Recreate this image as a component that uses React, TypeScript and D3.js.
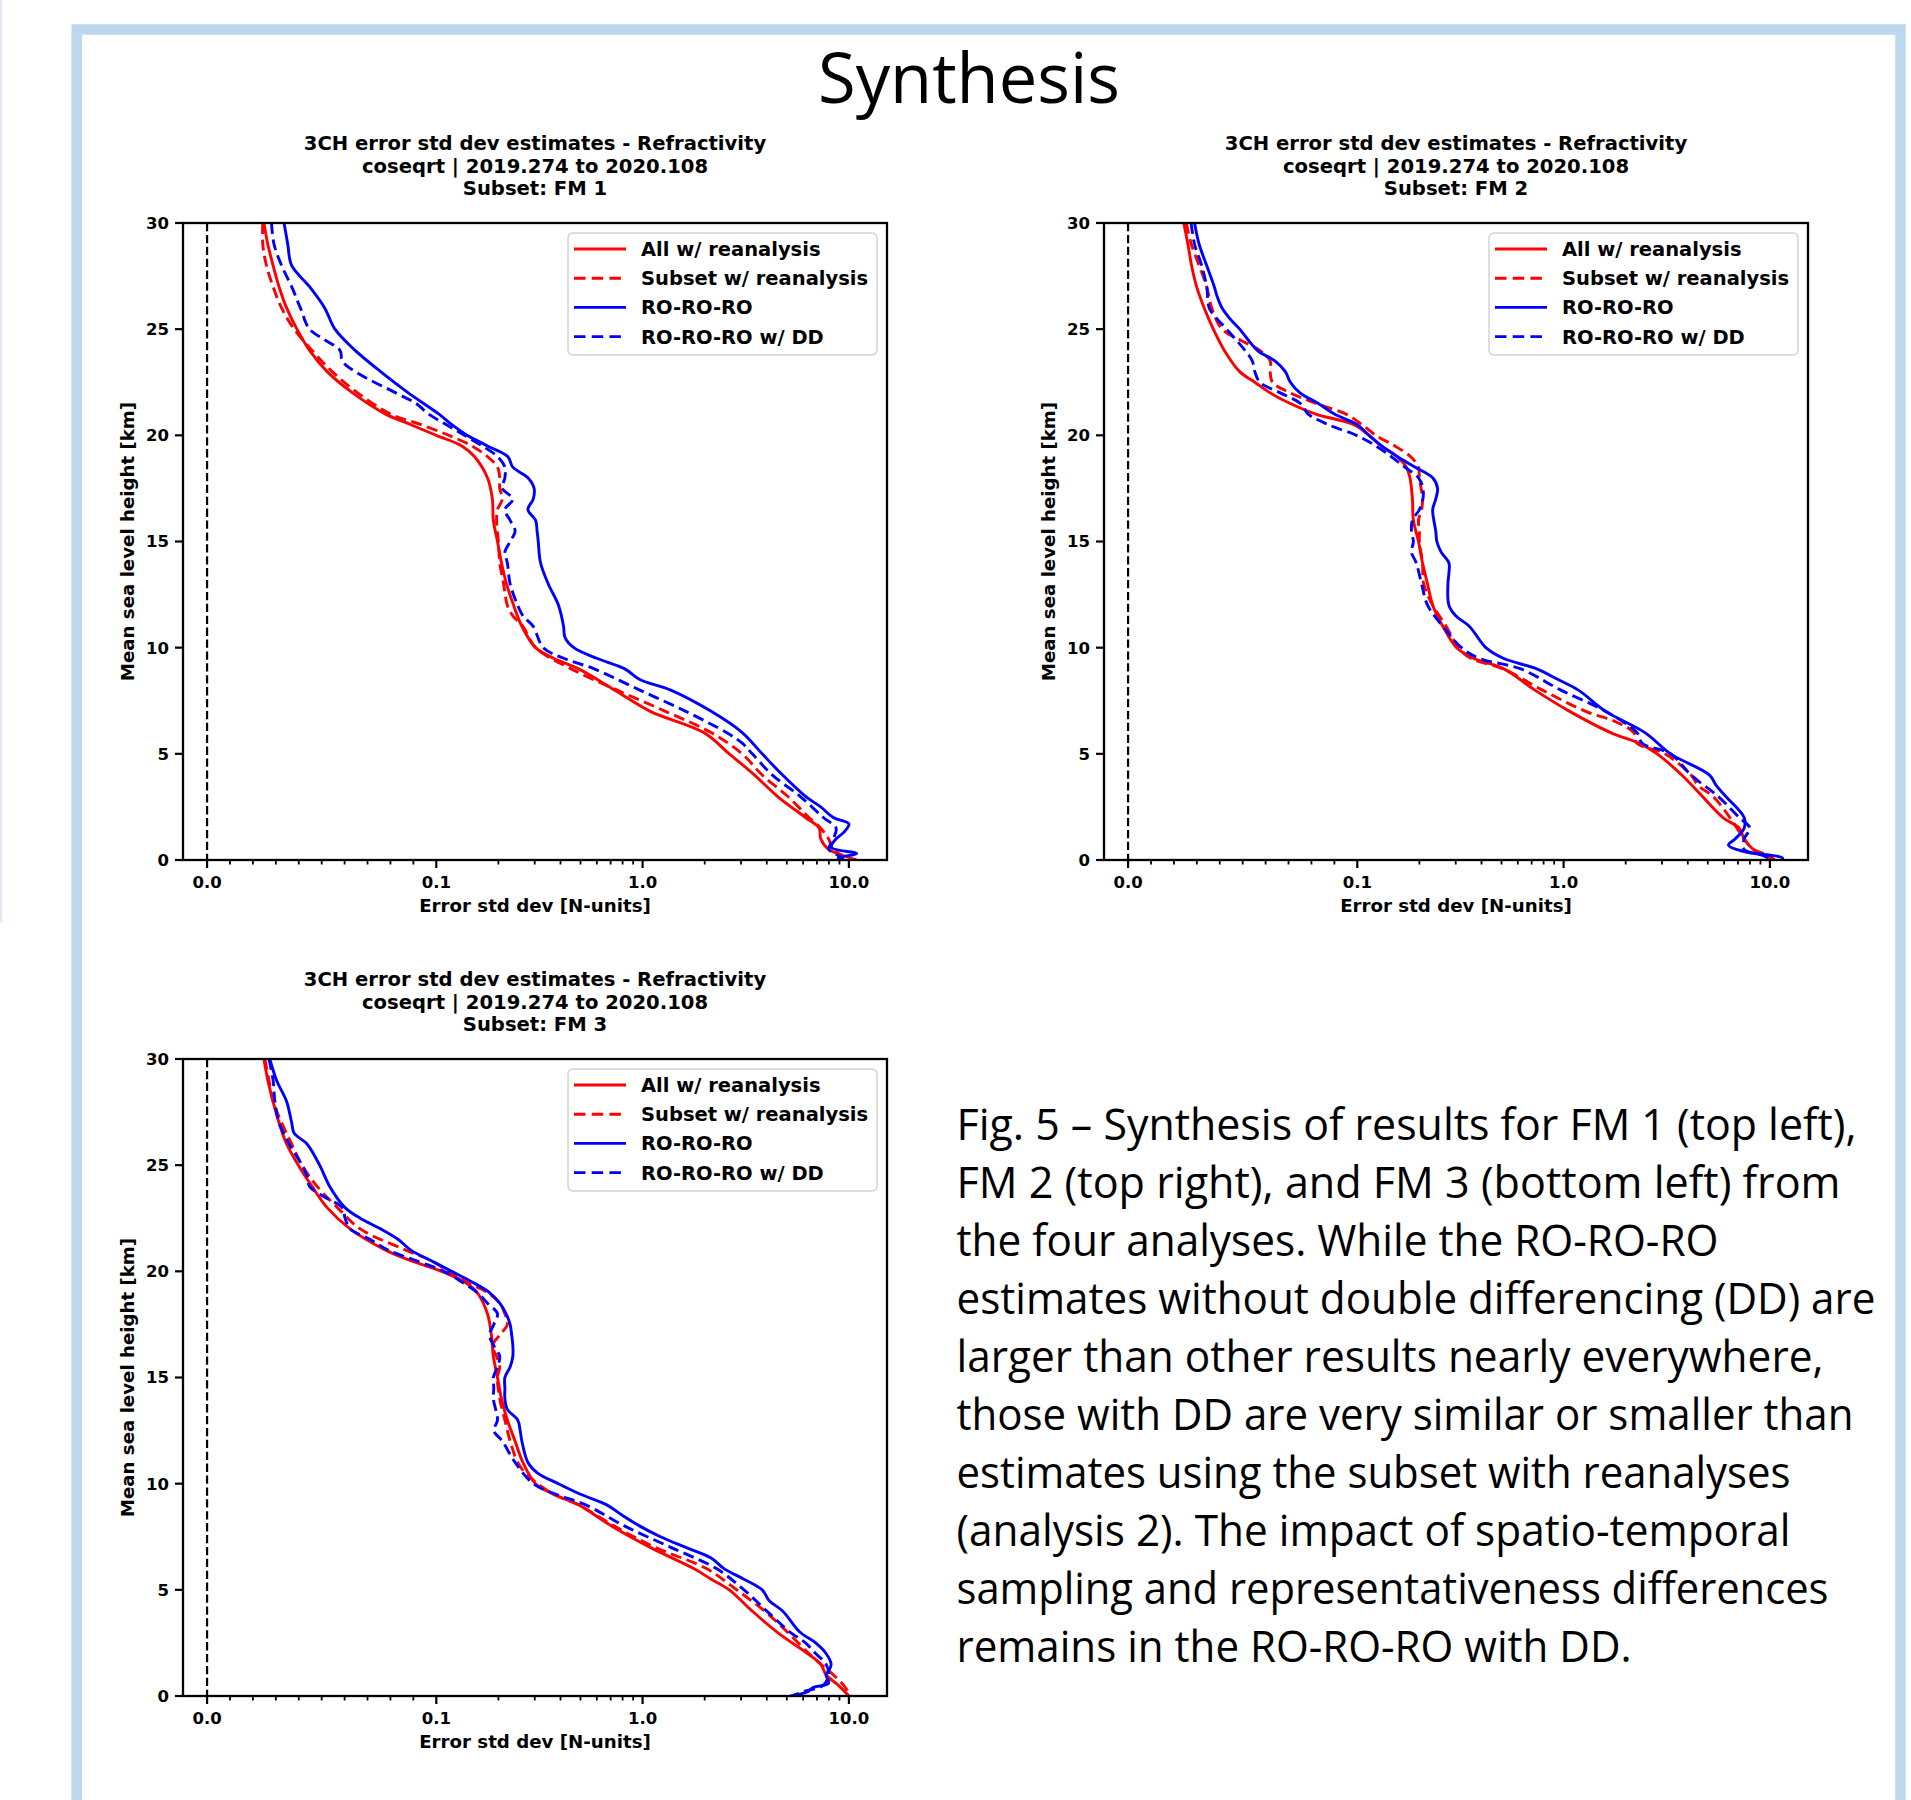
import React from 'react';
import * as d3 from 'd3';

// tick values / labels
const heightTicks = [0, 5, 10, 15, 20, 25, 30];
const errMajorTicks = [0, 0.1, 1, 10];
const errMajorLabels = ['0.0', '0.1', '1.0', '10.0'];
const errMinorTicks = [
  0.01, 0.02, 0.03, 0.04, 0.05, 0.06, 0.07, 0.08, 0.09,
  0.2, 0.3, 0.4, 0.5, 0.6, 0.7, 0.8, 0.9,
  2, 3, 4, 5, 6, 7, 8, 9,
];
const errLimits = [-0.0105, 15.3];
const heightLimits = [0, 30];

const legendLabels = ['All w/ reanalysis', 'Subset w/ reanalysis', 'RO-RO-RO', 'RO-RO-RO w/ DD'];
const subsetNames = ['FM 1', 'FM 2', 'FM 3'];
const titleLine1 = '3CH error std dev estimates - Refractivity';
const titleLine2 = 'coseqrt | 2019.274 to 2020.108';

// [height km, error std dev N-units]
const fm1All = [[30, 0.0248], [29, 0.0265], [28, 0.0288], [27, 0.0314], [26, 0.0347], [25, 0.0392], [24, 0.0447], [23, 0.0524], [22, 0.0635], [21, 0.0779], [20.5, 0.0889], [20, 0.1], [19.5, 0.133], [19, 0.153], [18, 0.177], [17, 0.187], [16, 0.189], [15, 0.198], [14, 0.207], [13, 0.219], [12, 0.237], [11, 0.26], [10, 0.303], [9.5, 0.37], [9, 0.49], [8, 0.733], [7, 1.09], [6, 1.98], [5, 2.63], [4, 3.49], [3, 4.5], [2, 6.16], [1.5, 7.18], [1, 7.3], [0.5, 7.97], [0.2, 9.44], [0, 10.9]];
const fm1Subset = [[30, 0.0243], [29, 0.0243], [28, 0.0259], [27, 0.0288], [26, 0.0325], [25, 0.038], [24, 0.0458], [23, 0.0546], [22, 0.0657], [21, 0.0801], [20.5, 0.0934], [20, 0.115], [19.5, 0.149], [19, 0.177], [18.5, 0.198], [18, 0.203], [17.5, 0.203], [17, 0.209], [16.5, 0.198], [16, 0.196], [15, 0.2], [14, 0.203], [13, 0.212], [12, 0.221], [11.5, 0.235], [11, 0.263], [10, 0.303], [9, 0.451], [8, 0.753], [7, 1.29], [6, 2.15], [5, 3.04], [4, 3.8], [3, 5.05], [2, 6.4], [1.5, 7.3], [1, 7.97], [0.5, 8.4], [0, 10.2]];
const fm1Ro = [[30, 0.0336], [29, 0.0352], [28, 0.0369], [27, 0.0447], [26, 0.0513], [25, 0.0558], [24, 0.0646], [23, 0.0757], [22, 0.0878], [21, 0.103], [20.5, 0.119], [20, 0.141], [19.5, 0.177], [19, 0.222], [18.5, 0.235], [18, 0.278], [17.5, 0.298], [17, 0.295], [16.5, 0.278], [16, 0.303], [15.5, 0.308], [15, 0.312], [14, 0.32], [13, 0.349], [12, 0.391], [11, 0.414], [10.5, 0.42], [10, 0.464], [9.5, 0.599], [9, 0.82], [8.5, 0.97], [8, 1.37], [7, 2.15], [6, 3.04], [5, 3.8], [4, 4.77], [3, 6.16], [2.5, 7.3], [2, 8.4], [1.7, 10], [1.3, 9.44], [1, 8.67], [0.6, 8.2], [0.3, 10.9], [0.1, 8.9], [0, 8.9]];
const fm1RoDD = [[30, 0.0281], [29, 0.0292], [28, 0.0325], [27, 0.0369], [26, 0.0407], [25, 0.0447], [24.5, 0.0513], [24, 0.058], [23.5, 0.059], [23, 0.0646], [22, 0.0823], [21.5, 0.0912], [21, 0.0967], [20.5, 0.112], [20, 0.137], [19.5, 0.167], [19, 0.198], [18.5, 0.215], [18, 0.215], [17.5, 0.209], [17, 0.235], [16.5, 0.215], [16, 0.228], [15.5, 0.241], [15, 0.228], [14.5, 0.215], [14, 0.221], [13, 0.228], [12, 0.248], [11.5, 0.263], [11, 0.295], [10, 0.33], [9.5, 0.414], [9, 0.583], [8, 0.97], [7, 1.62], [6, 2.55], [5.5, 3.04], [5, 3.4], [4, 4.26], [3, 5.8], [2, 7.52], [1.5, 8.67], [1, 8.4], [0.5, 8.0], [0.2, 8.9], [0, 9.44]];

const fm2All = [[30, 0.0243], [29, 0.0261], [28, 0.0277], [27, 0.0299], [26, 0.0332], [25, 0.0372], [24, 0.042], [23, 0.0487], [22.5, 0.0553], [22, 0.062], [21.5, 0.0708], [21, 0.0819], [20.5, 0.0985], [20, 0.114], [19.5, 0.131], [19, 0.156], [18.5, 0.173], [18, 0.18], [17, 0.185], [16, 0.187], [15, 0.198], [14, 0.207], [13, 0.219], [12, 0.232], [11, 0.26], [10, 0.303], [9.5, 0.365], [9, 0.514], [8, 0.726], [7, 1.07], [6, 1.69], [5.5, 2.32], [5, 2.84], [4, 3.74], [3, 4.7], [2, 5.92], [1.5, 7.1], [1, 7.5], [0.5, 8.3], [0, 10.6]];
const fm2Subset = [[30, 0.0254], [29, 0.0276], [28, 0.031], [27, 0.0343], [26, 0.0365], [25, 0.041], [24.5, 0.0487], [24, 0.0575], [23.5, 0.062], [23, 0.062], [22.5, 0.063], [22, 0.0708], [21.5, 0.082], [21, 0.0951], [20.5, 0.1055], [20, 0.123], [19.5, 0.152], [19, 0.181], [18.5, 0.198], [18, 0.2], [17, 0.207], [16.5, 0.205], [16, 0.198], [15.5, 0.2], [15, 0.2], [14, 0.207], [13, 0.21], [12, 0.232], [11, 0.27], [10, 0.31], [9.5, 0.355], [9, 0.51], [8, 0.79], [7, 1.28], [6.5, 1.8], [6, 2.19], [5.5, 2.27], [5, 3.1], [4, 4.15], [3.5, 4.5], [3, 5.3], [2, 6.4], [1, 7.5], [0.5, 8.3], [0.2, 10], [0, 10.5]];
const fm2Ro = [[30, 0.029], [29, 0.031], [28, 0.0343], [27, 0.0376], [26.5, 0.039], [26, 0.041], [25.5, 0.0444], [25, 0.0487], [24, 0.0564], [23.5, 0.0642], [23, 0.0686], [22.5, 0.0708], [22, 0.075], [21.5, 0.083], [21, 0.09], [20.5, 0.1], [20, 0.114], [19.5, 0.131], [19, 0.156], [18.5, 0.191], [18, 0.232], [17.5, 0.245], [17, 0.24], [16.5, 0.232], [16, 0.235], [15.5, 0.24], [15, 0.243], [14.5, 0.255], [14, 0.278], [13.5, 0.278], [13, 0.275], [12, 0.278], [11.5, 0.3], [11, 0.35], [10, 0.42], [9.5, 0.51], [9, 0.74], [8.5, 0.94], [8, 1.18], [7, 1.6], [6, 2.48], [5, 3.3], [4, 5.1], [3.5, 5.5], [3, 6.1], [2, 7.5], [1.5, 7.5], [1, 6.8], [0.7, 6.3], [0.4, 7.5], [0.1, 11.5], [0, 11.5]];
const fm2RoDD = [[30, 0.0275], [29, 0.029], [28, 0.0321], [27, 0.0343], [26, 0.0354], [25.5, 0.0387], [25, 0.043], [24, 0.051], [23.5, 0.0542], [23, 0.0553], [22.5, 0.0575], [22, 0.0664], [21.5, 0.0752], [21, 0.0786], [20.5, 0.0874], [20, 0.0996], [19.5, 0.123], [19, 0.146], [18.5, 0.17], [18, 0.198], [17.5, 0.208], [17, 0.208], [16.5, 0.2], [16, 0.185], [15.5, 0.183], [15, 0.187], [14.5, 0.183], [14, 0.193], [13, 0.205], [12, 0.219], [11, 0.26], [10, 0.32], [9.5, 0.39], [9, 0.62], [8, 0.97], [7, 1.6], [6, 2.27], [5.5, 2.4], [5, 3.3], [4, 4.15], [3, 5.6], [2, 7.1], [1.5, 8], [1, 7.5], [0.5, 7.5], [0.2, 9.3], [0, 10.2]];

const fm3All = [[30, 0.0248], [29, 0.0265], [28, 0.0288], [27, 0.0314], [26, 0.0347], [25, 0.0398], [24, 0.0458], [23, 0.0524], [22, 0.0624], [21, 0.0779], [20.5, 0.0889], [20, 0.106], [19.5, 0.137], [19, 0.158], [18, 0.177], [17, 0.185], [16, 0.189], [15, 0.198], [14, 0.207], [13, 0.221], [12, 0.241], [11, 0.263], [10, 0.303], [9.5, 0.37], [9, 0.49], [8, 0.71], [7, 1.09], [6, 1.77], [5.5, 2.15], [5, 2.63], [4, 3.4], [3, 4.5], [2, 6.3], [1.5, 7.3], [1, 7.75], [0.5, 8.9], [0, 10]];
const fm3Subset = [[30, 0.0252], [29, 0.027], [28, 0.0288], [27, 0.0325], [26, 0.0369], [25, 0.0414], [24, 0.048], [23, 0.0569], [22, 0.0668], [21, 0.0867], [20.5, 0.0978], [20, 0.115], [19.5, 0.14], [19, 0.177], [18.5, 0.203], [18, 0.215], [17.5, 0.221], [17, 0.203], [16.5, 0.187], [16, 0.196], [15.5, 0.203], [15, 0.198], [14, 0.203], [13, 0.215], [12, 0.228], [11, 0.248], [10.5, 0.27], [10, 0.31], [9.5, 0.37], [9, 0.49], [8, 0.73], [7, 1.15], [6, 2.04], [5, 2.86], [4, 3.9], [3, 5.05], [2, 6.4], [1.5, 7.3], [1, 8.4], [0.5, 9.44], [0, 10.2]];
const fm3Ro = [[30, 0.0274], [29, 0.0303], [28, 0.0347], [27, 0.0369], [26.5, 0.038], [26, 0.0436], [25, 0.0491], [24, 0.0535], [23, 0.0602], [22.5, 0.0668], [22, 0.0757], [21.5, 0.0834], [21, 0.0889], [20.5, 0.0978], [20, 0.1186], [19.5, 0.149], [19, 0.181], [18.5, 0.203], [18, 0.218], [17.5, 0.228], [17, 0.232], [16.5, 0.235], [16, 0.235], [15.5, 0.228], [15, 0.215], [14.5, 0.215], [14, 0.215], [13.5, 0.221], [13, 0.248], [12.5, 0.255], [12, 0.26], [11, 0.278], [10.5, 0.31], [10, 0.39], [9.5, 0.5], [9, 0.67], [8.5, 0.8], [8, 0.97], [7.5, 1.22], [7, 1.62], [6.5, 2.15], [6, 2.48], [5.5, 3.1], [5, 3.8], [4.5, 4.1], [4, 4.77], [3, 5.8], [2.5, 6.9], [2, 7.75], [1.5, 8.2], [1.2, 8.0], [1, 7.75], [0.6, 7.97], [0.4, 6.7], [0.2, 6.3], [0, 5.2]];
const fm3RoDD = [[30, 0.027], [29, 0.0288], [28, 0.0296], [27, 0.0314], [26, 0.0358], [25, 0.0414], [24.5, 0.0436], [24, 0.0447], [23.5, 0.0513], [23, 0.059], [22.5, 0.0602], [22, 0.0624], [21.5, 0.0712], [21, 0.079], [20.5, 0.0912], [20, 0.109], [19.5, 0.133], [19, 0.158], [18.5, 0.177], [18, 0.198], [17.5, 0.19], [17, 0.181], [16.5, 0.19], [16, 0.203], [15.5, 0.198], [15, 0.189], [14.5, 0.19], [14, 0.189], [13, 0.198], [12.5, 0.19], [12, 0.209], [11, 0.241], [10, 0.295], [9.5, 0.38], [9, 0.53], [8, 0.82], [7, 1.37], [6, 2.28], [5, 3.1], [4, 4.0], [3, 5.2], [2.5, 6.16], [2, 6.9], [1.5, 7.75], [1, 7.97], [0.5, 7.5], [0.2, 6.0], [0, 5.3]];

const captionLines = [
  'Fig. 5 \u2013 Synthesis of results for FM 1 (top left),',
  'FM 2 (top right), and FM 3 (bottom left) from',
  'the four analyses. While the RO-RO-RO',
  'estimates without double differencing (DD) are',
  'larger than other results nearly everywhere,',
  'those with DD are very similar or smaller than',
  'estimates using the subset with reanalyses',
  '(analysis 2). The impact of spatio-temporal',
  'sampling and representativeness differences',
  'remains in the RO-RO-RO with DD.',
];
const captionWidths = [900, 884, 762, 919, 867, 897, 834, 834, 872, 675];

// line styles for the four analyses
const seriesStyles = [
  { color: '#ff0000', dash: null },
  { color: '#ff0000', dash: '11,5.5' },
  { color: '#0000ff', dash: null },
  { color: '#0000ff', dash: '11,5.5' },
];

const W = 704;
const H = 637;
const FONT = 'DejaVu Sans, sans-serif';

// matplotlib symlog, linthresh 0.1, linscale 1, base 10
const LINTHRESH = 0.1;
const LINSCALE = 1 / (1 - 1 / 10);
const symlog = (v: number) => {
  const a = Math.abs(v);
  const t = a <= LINTHRESH ? (a / LINTHRESH) * LINSCALE : LINSCALE + Math.log10(a / LINTHRESH);
  return Math.sign(v) * t;
};

const Panel = ({ left, top, subset, series, id }) => {
  const xs = d3.scaleLinear().domain(errLimits.map(symlog)).range([0, W]);
  const x = (v: number) => xs(symlog(v));
  const y = d3.scaleLinear().domain(heightLimits).range([H, 0]);

  const line = d3
    .line<number[]>()
    .x((d) => x(d[1]))
    .y((d) => y(d[0]))
    .curve(d3.curveCatmullRom.alpha(0.5));

  const cx = W / 2;

  return (
    <g transform={`translate(${left},${top})`}>
      <defs>
        <clipPath id={`clip-${id}`}>
          <rect x={0} y={0} width={W} height={H} />
        </clipPath>
      </defs>

      {/* title */}
      <g fontFamily={FONT} fontWeight="bold" fontSize={19.6} textAnchor="middle" fill="#000">
        <text x={cx} y={-73}>{titleLine1}</text>
        <text x={cx} y={-50.5}>{titleLine2}</text>
        <text x={cx} y={-28}>{`Subset: ${subset}`}</text>
      </g>

      {/* zero line */}
      <line x1={x(0)} x2={x(0)} y1={0} y2={H} stroke="#000" strokeWidth={2.2} strokeDasharray="8.3,3.6" />

      {/* data */}
      <g clipPath={`url(#clip-${id})`}>
        {series.map((s, i) => (
          <path
            key={i}
            d={line(s)}
            fill="none"
            stroke={seriesStyles[i].color}
            strokeWidth={2.9}
            strokeDasharray={seriesStyles[i].dash || undefined}
            strokeLinejoin="round"
          />
        ))}
      </g>

      {/* legend */}
      <g>
        <rect x={385} y={10} width={309} height={122} rx={5} fill="#fff" fillOpacity={0.8} stroke="#d4d4d4" strokeWidth={1.5} />
        {legendLabels.map((lab, i) => {
          const ly = 26 + i * 29.2;
          return (
            <g key={lab}>
              <line
                x1={391}
                x2={443}
                y1={ly}
                y2={ly}
                stroke={seriesStyles[i].color}
                strokeWidth={2.9}
                strokeDasharray={seriesStyles[i].dash ? '11.5,6.2' : undefined}
              />
              <text x={458} y={ly + 7} fontFamily={FONT} fontWeight="bold" fontSize={19.5} fill="#000">
                {lab}
              </text>
            </g>
          );
        })}
      </g>

      {/* spines */}
      <rect x={0} y={0} width={W} height={H} fill="none" stroke="#000" strokeWidth={2.3} />

      {/* y axis */}
      {heightTicks.map((t) => (
        <g key={t} transform={`translate(0,${y(t)})`}>
          <line x1={-8} x2={0} stroke="#000" strokeWidth={2.2} />
          <text x={-14} dy="0.36em" textAnchor="end" fontFamily={FONT} fontWeight="bold" fontSize={16.5}>
            {t}
          </text>
        </g>
      ))}

      {/* x axis */}
      {errMinorTicks.map((t) => (
        <line key={t} x1={x(t)} x2={x(t)} y1={H} y2={H + 4.5} stroke="#000" strokeWidth={1.8} />
      ))}
      {errMajorTicks.map((t, i) => (
        <g key={t} transform={`translate(${x(t)},${H})`}>
          <line y1={0} y2={8} stroke="#000" strokeWidth={2.2} />
          <text y={28} textAnchor="middle" fontFamily={FONT} fontWeight="bold" fontSize={16.5}>
            {errMajorLabels[i]}
          </text>
        </g>
      ))}

      <text x={cx} y={H + 52} textAnchor="middle" fontFamily={FONT} fontWeight="bold" fontSize={18.2}>
        Error std dev [N-units]
      </text>
      <text
        transform={`translate(-49,${H / 2}) rotate(-90)`}
        textAnchor="middle"
        fontFamily={FONT}
        fontWeight="bold"
        fontSize={18.2}
      >
        Mean sea level height [km]
      </text>
    </g>
  );
};

const App = () => {
  return (
    <svg
      width={1911}
      height={1800}
      style={{ position: 'absolute', left: 0, top: 0, background: '#fff' }}
    >
      <rect x={0} y={0} width={1911} height={1800} fill="#fff" />
      {/* slide artefacts */}
      <line x1={1} x2={1} y1={0} y2={923} stroke="#e2ebf5" strokeWidth={2} />
      <rect x={76.7} y={29.5} width={1823.8} height={2000} fill="none" stroke="#bdd7ee" strokeWidth={10.5} />

      <text
        x={969}
        y={103}
        textAnchor="middle"
        fontFamily="Open Sans, sans-serif"
        fontSize={70}
        textLength={302}
        lengthAdjust="spacingAndGlyphs"
        fill="#000"
      >
        Synthesis
      </text>

      <Panel id="p1" left={183} top={223} subset={subsetNames[0]} series={[fm1All, fm1Subset, fm1Ro, fm1RoDD]} />
      <Panel id="p2" left={1104} top={223} subset={subsetNames[1]} series={[fm2All, fm2Subset, fm2Ro, fm2RoDD]} />
      <Panel id="p3" left={183} top={1059} subset={subsetNames[2]} series={[fm3All, fm3Subset, fm3Ro, fm3RoDD]} />

      <g fontFamily="Open Sans, sans-serif" fontSize={44} fill="#000">
        {captionLines.map((ln, i) => (
          <text key={i} x={956.5} y={1140 + i * 58} textLength={captionWidths[i]} lengthAdjust="spacingAndGlyphs">
            {ln}
          </text>
        ))}
      </g>
    </svg>
  );
};

export default App;
